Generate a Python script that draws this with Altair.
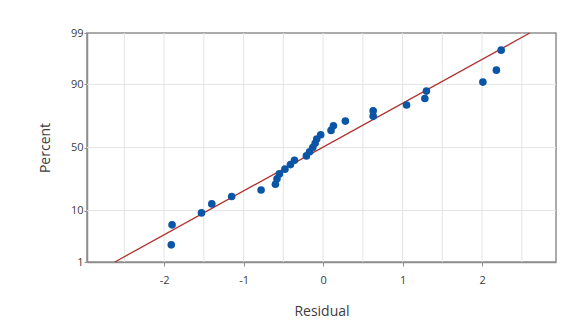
import altair as alt
import pandas as pd
from statistics import NormalDist

# Normal probability plot of residuals
residual = [-1.91, -1.90, -1.53, -1.40, -1.15, -0.78, -0.60, -0.58, -0.55, -0.48,
            -0.41, -0.36, -0.21, -0.17, -0.13, -0.10, -0.08, -0.03, 0.10, 0.13,
            0.28, 0.63, 0.63, 1.05, 1.28, 1.30, 2.01, 2.18, 2.24]
percent = [2.4, 5.8, 9.2, 12.6, 16.0, 19.4, 22.8, 26.2, 29.6, 33.0,
           36.4, 39.8, 43.2, 46.6, 50.0, 53.4, 56.8, 60.2, 63.6, 67.0,
           70.4, 73.8, 77.2, 80.6, 84.0, 87.4, 90.8, 94.2, 97.6]

# fitted normal line (end points)
fit_residual = [-2.62, 2.60]
fit_percent = [1, 99]

y_ticks = [1, 10, 50, 90, 99]
y_grid = [10, 50, 90]
x_ticks = [-2, -1, 0, 1, 2]
x_grid = [-2.5, -2, -1.5, -1, -0.5, 0, 0.5, 1, 1.5, 2, 2.5]
x_domain = [-2.97, 2.93]

nd = NormalDist()


def probit(p):
    return nd.inv_cdf(p / 100.0)


pts = pd.DataFrame({"Residual": residual, "Percent": percent,
                    "z": [probit(p) for p in percent]})
fit = pd.DataFrame({"Residual": fit_residual, "z": [probit(p) for p in fit_percent]})
xgrid = pd.DataFrame({"Residual": x_grid})
ygrid = pd.DataFrame({"z": [probit(p) for p in y_grid]})

zt = [probit(p) for p in y_ticks]
expr = "''"
for z, p in reversed(list(zip(zt, y_ticks))):
    expr = f"abs(datum.value - ({z:.5f})) < 0.01 ? '{p}' : " + expr

FONT = "Open Sans"
TXT = "#3c3c3c"
FRAME = "#8e8e8e"
GRID = "#e4e4e4"

xscale = alt.Scale(domain=x_domain, nice=False, zero=False)
yscale = alt.Scale(domain=[zt[0], zt[-1]], nice=False, zero=False)

xaxis = alt.Axis(values=x_ticks, grid=False, title="Residual", tickSize=4,
                 labelExpr="'' + datum.value",
                 tickColor=FRAME, domainColor=FRAME, domainWidth=1.5,
                 labelPadding=8, titlePadding=19, labelFontSize=11,
                 titleFontSize=14, titleFontWeight="normal", labelColor=TXT,
                 titleColor=TXT, labelFont=FONT, titleFont=FONT)
yaxis = alt.Axis(values=zt, labelExpr=expr, grid=False,
                 title="Percent", tickSize=3, tickColor=FRAME,
                 domainColor=FRAME, domainWidth=1.5, labelPadding=1,
                 titlePadding=18, labelFontSize=11, titleFontSize=14,
                 titleFontWeight="normal", labelColor=TXT, titleColor=TXT,
                 labelFont=FONT, titleFont=FONT)

xgrid_layer = alt.Chart(xgrid).mark_rule(color=GRID, strokeWidth=1).encode(
    x=alt.X("Residual:Q", scale=xscale, axis=xaxis)
)
ygrid_layer = alt.Chart(ygrid).mark_rule(color=GRID, strokeWidth=1).encode(
    y=alt.Y("z:Q", scale=yscale, axis=yaxis)
)

fit_layer = alt.Chart(fit).mark_line(color="#b0302c", strokeWidth=1.3).encode(
    x=alt.X("Residual:Q", scale=xscale, axis=xaxis),
    y=alt.Y("z:Q", scale=yscale, axis=yaxis),
)

pt_layer = alt.Chart(pts).mark_circle(color="#0a55a6", opacity=1, size=58).encode(
    x=alt.X("Residual:Q", scale=xscale, axis=xaxis),
    y=alt.Y("z:Q", scale=yscale, axis=yaxis),
)

chart = (
    alt.layer(xgrid_layer, ygrid_layer, fit_layer, pt_layer)
    .properties(width=469, height=229,
                autosize=alt.AutoSizeParams(type="none"),
                padding={"left": 79, "top": 25, "right": 10, "bottom": 61},
                view=alt.ViewBackground(stroke=FRAME, strokeWidth=1.5,
                                        fill="white"))
    .configure(background="white")
)

chart.save("out.html", embed_options={"renderer": "svg", "actions": False})
